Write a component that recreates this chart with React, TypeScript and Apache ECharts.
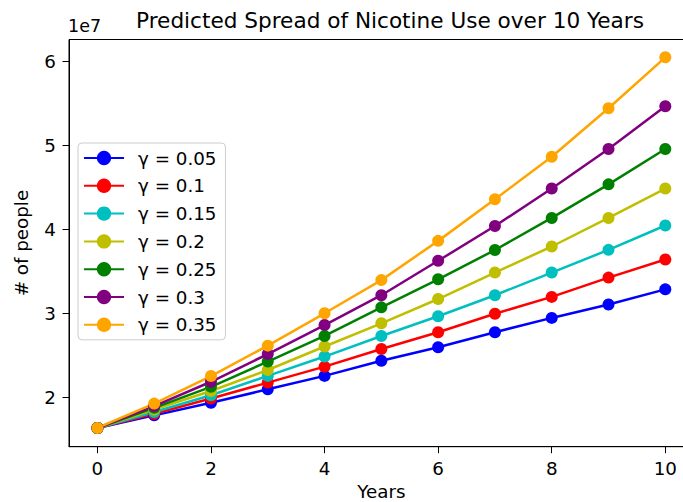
import React, { useEffect, useRef } from "react";
import * as echarts from "echarts";

const years = [0, 1, 2, 3, 4, 5, 6, 7, 8, 9, 10];
const gammaLabels = ["γ = 0.05", "γ = 0.1", "γ = 0.15", "γ = 0.2", "γ = 0.25", "γ = 0.3", "γ = 0.35"];
const colors = ["#0000ff", "#ff0000", "#00bfbf", "#bfbf00", "#008000", "#800080", "#ffa500"];

const g005 = [16400000, 17900000, 19400000, 21000000, 22600000, 24400000, 26000000, 27800000, 29500000, 31100000, 32900000];
const g010 = [16400000, 18100000, 19900000, 21800000, 23700000, 25800000, 27800000, 30000000, 32000000, 34300000, 36450000];
const g015 = [16400000, 18300000, 20300000, 22600000, 24900000, 27350000, 29700000, 32200000, 34900000, 37600000, 40500000];
const g020 = [16400000, 18600000, 20800000, 23300000, 26100000, 28860000, 31750000, 34900000, 38000000, 41400000, 44900000];
const g025 = [16400000, 18800000, 21300000, 24300000, 27350000, 30760000, 34100000, 37580000, 41400000, 45400000, 49600000];
const g030 = [16400000, 19000000, 21900000, 25200000, 28650000, 32200000, 36300000, 40440000, 44900000, 49600000, 54700000];
const g035 = [16400000, 19300000, 22580000, 26200000, 30050000, 34000000, 38670000, 43620000, 48690000, 54450000, 60520000];
const seriesValues = [g005, g010, g015, g020, g025, g030, g035];

const yTicks = [20000000, 30000000, 40000000, 50000000, 60000000];
const xTicks = [0, 2, 4, 6, 8, 10];

const FONT = "DejaVu Sans";
const FS = 18.3;

export default function App() {
  const ref = useRef<HTMLDivElement>(null);
  useEffect(() => {
    if (!ref.current) return;
    const chart = echarts.init(ref.current, null, { renderer: "svg" });
    chart.setOption({
      animation: false,
      backgroundColor: "#ffffff",
      grid: {
        left: 69,
        top: 39.5,
        right: 6.3,
        bottom: 55.3,
        outerBoundsMode: "none",
        containLabel: false,
        show: true,
        borderColor: "#000",
        borderWidth: 1,
        backgroundColor: "transparent",
      },
      graphic: [
        {
          type: "text",
          x: 390,
          y: 20,
          style: {
            text: "Predicted Spread of Nicotine Use over 10 Years",
            font: `21.6px "${FONT}"`,
            fill: "#000",
            textAlign: "center",
            textVerticalAlign: "middle",
          },
        },
        {
          type: "text",
          x: 68,
          y: 26,
          style: {
            text: "1e7",
            font: `17.5px "${FONT}"`,
            fill: "#000",
            textAlign: "left",
            textVerticalAlign: "middle",
          },
        },
      ],
      legend: {
        left: 78,
        top: 143,
        orient: "vertical",
        itemWidth: 40,
        itemHeight: 18,
        itemGap: 9.8,
        padding: [6, 9, 6, 5],
        backgroundColor: "rgba(255,255,255,0.8)",
        borderColor: "#cccccc",
        borderWidth: 1,
        borderRadius: 4,
        textStyle: {
          fontFamily: FONT,
          fontSize: FS,
          color: "#000",
          lineHeight: 18,
          padding: [0, 0, 0, 9],
        },
        data: gammaLabels,
      },
      xAxis: {
        type: "value",
        min: -0.5,
        max: 10.5,
        name: "Years",
        nameLocation: "middle",
        nameGap: 36,
        nameTextStyle: { fontFamily: FONT, fontSize: FS, color: "#000" },
        splitLine: { show: false },
        axisLine: { show: true, onZero: false, lineStyle: { color: "#000", width: 1 } },
        axisTick: { show: true, length: 6.5, customValues: xTicks, lineStyle: { color: "#000", width: 1 } },
        axisLabel: {
          customValues: xTicks,
          margin: 13,
          fontFamily: FONT,
          fontSize: FS,
          color: "#000",
        },
      },
      yAxis: {
        type: "value",
        min: 14170000,
        max: 62640000,
        name: "# of people",
        nameLocation: "middle",
        nameGap: 39,
        nameRotate: 90,
        nameTextStyle: { fontFamily: FONT, fontSize: FS, color: "#000" },
        splitLine: { show: false },
        axisLine: { show: true, onZero: false, lineStyle: { color: "#000", width: 1 } },
        axisTick: { show: true, length: 6.5, customValues: yTicks, lineStyle: { color: "#000", width: 1 } },
        axisLabel: {
          customValues: yTicks,
          margin: 13,
          fontFamily: FONT,
          fontSize: FS,
          color: "#000",
          formatter: (v: number) => String(Math.round(v / 1e7)),
        },
      },
      series: seriesValues.map((vals, i) => ({
        name: gammaLabels[i],
        type: "line",
        data: years.map((x, j) => [x, vals[j]]),
        symbol: "circle",
        symbolSize: 12,
        showSymbol: true,
        lineStyle: { color: colors[i], width: 2.5 },
        itemStyle: { color: colors[i] },
        emphasis: { disabled: true },
      })),
    });
    return () => chart.dispose();
  }, []);
  return (
    <div style={{ position: "absolute", left: 0, top: 0, width: 683, height: 502, overflow: "hidden" }}>
      <div ref={ref} style={{ width: 700, height: 502 }} />
    </div>
  );
}
